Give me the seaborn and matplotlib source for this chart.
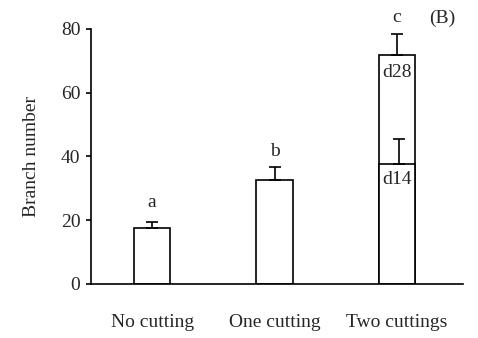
import pandas as pd
import matplotlib
matplotlib.use('Agg')
import matplotlib.pyplot as plt
import seaborn as sns

categories = ['No cutting', 'One cutting', 'Two cuttings']
branch_mean = [17.5, 32.6, 71.8]
branch_err = [2.0, 3.9, 6.6]
letters = ['a', 'b', 'c']

# day-14 part of the two-cuttings bar
d14_mean = 37.5
d14_err = 7.8

sns.set_style('ticks')
plt.rcParams['font.family'] = ['Liberation Serif', 'DejaVu Serif']
FS = 14

df = pd.DataFrame({'group': categories, 'branches': branch_mean})
df14 = pd.DataFrame({'group': ['Two cuttings'], 'branches': [d14_mean]})

fig = plt.figure(figsize=(4.78, 3.38), dpi=100)
ax = fig.add_axes([0.190, 0.160, 0.779, 0.755])

sns.barplot(data=df, x='group', y='branches', order=categories, color='white',
            edgecolor='black', linewidth=1.2, width=0.3, errorbar=None, ax=ax,
            saturation=1)
sns.barplot(data=df14, x='group', y='branches', order=categories, color='white',
            edgecolor='black', linewidth=1.2, width=0.3, errorbar=None, ax=ax,
            saturation=1)

xpos = list(range(len(categories)))
ax.errorbar(xpos, branch_mean, yerr=[[0] * 3, branch_err], fmt='none',
            ecolor='black', elinewidth=1.2, capsize=4, capthick=1.2, zorder=1)
ax.errorbar([2.02], [d14_mean], yerr=[[0], [d14_err]], fmt='none',
            ecolor='black', elinewidth=1.2, capsize=4, capthick=1.2, zorder=1)

# significance letters
offsets = [3.5, 2.5, 2.5]
for x, m, e, off, lab in zip(xpos, branch_mean, branch_err, offsets, letters):
    ax.text(x, m + e + off, lab, ha='center', va='bottom', fontsize=FS)

ax.text(2, branch_mean[2] - 2.8, 'd28', ha='center', va='top', fontsize=FS)
ax.text(2, d14_mean - 2.2, 'd14', ha='center', va='top', fontsize=FS)
ax.text(2.37, 80.5, '(B)', ha='center', va='bottom', fontsize=FS)

ax.set_ylim(0, 80)
ax.set_xlim(-0.5, 2.54)
ax.set_yticks([0, 20, 40, 60, 80])
ax.set_xlabel('')
ax.set_ylabel('Branch number', fontsize=FS, labelpad=15)
ax.tick_params(axis='y', labelsize=FS, length=3.6, width=1.2, color='black', pad=4)
ax.tick_params(axis='x', labelsize=FS, length=0, pad=22)
for side in ['top', 'right']:
    ax.spines[side].set_visible(False)
for side in ['left', 'bottom']:
    ax.spines[side].set_linewidth(1.2)
    ax.spines[side].set_color('black')

plt.savefig('out.png', dpi=100)
